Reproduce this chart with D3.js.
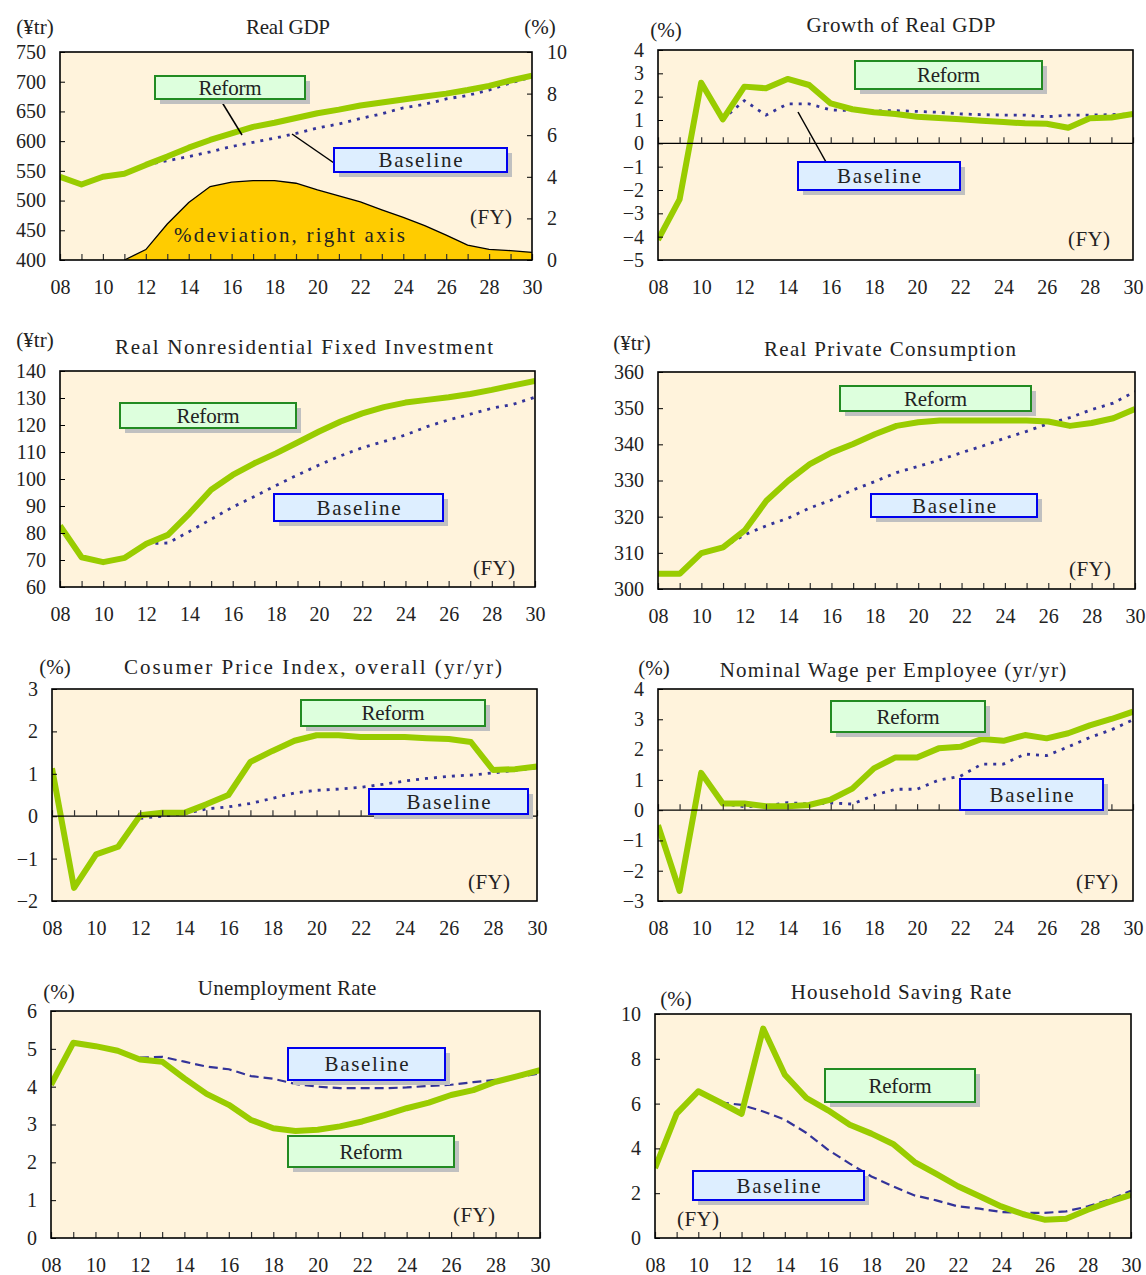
<!DOCTYPE html>
<html>
<head>
<meta charset="utf-8">
<script src="https://cdn.jsdelivr.net/npm/d3@7"></script>
<style>
body { margin: 0; background: #fff; }
text { font-family: "Liberation Serif", serif; fill: #222; }
</style>
</head>
<body>
<div id="chart-area"></div>
<script>
// fiscal years
var years = [2008, 2009, 2010, 2011, 2012, 2013, 2014, 2015, 2016, 2017, 2018,
             2019, 2020, 2021, 2022, 2023, 2024, 2025, 2026, 2027, 2028, 2029, 2030]
var yearLabels = [2008, 2010, 2012, 2014, 2016, 2018, 2020, 2022, 2024, 2026, 2028, 2030]

// Real GDP (trillion yen) and % deviation
var gdpReform = [540, 527, 540, 545, 560, 574, 589, 602, 613, 624, 631, 639, 647, 653, 660, 665, 670, 675, 680, 686, 693, 702, 710]
var gdpBase = [null, null, null, null, 560, 567, 574, 582, 591, 598, 605, 613, 622, 629, 638, 646, 656, 662, 671, 677, 686, 698, 708]
var gdpDev = [0, 0, 0, 0, 0.5, 1.73, 2.76, 3.53, 3.74, 3.82, 3.82, 3.69, 3.37, 3.08, 2.79, 2.41, 2.05, 1.65, 1.2, 0.72, 0.51, 0.45, 0.37]

// Growth of real GDP (%)
var growthReform = [-4.14, -2.4, 2.6, 1.03, 2.43, 2.36, 2.76, 2.5, 1.71, 1.46, 1.33, 1.26, 1.14, 1.09, 1.03, 0.97, 0.91, 0.86, 0.84, 0.67, 1.07, 1.11, 1.26]
var growthBase = [null, null, null, 1.03, 1.83, 1.21, 1.69, 1.69, 1.43, 1.4, 1.39, 1.4, 1.37, 1.33, 1.26, 1.23, 1.21, 1.21, 1.14, 1.21, 1.21, 1.23, 1.26]

// Real nonresidential fixed investment (trillion yen)
var invReform = [82.7, 71, 69.2, 70.8, 76, 79.3, 87.3, 96, 101.5, 105.8, 109.5, 113.5, 117.6, 121.3, 124.3, 126.6, 128.3, 129.3, 130.3, 131.5, 133, 134.7, 136.3]
var invBase = [null, null, null, null, 76, 76.3, 80.6, 85.1, 89.6, 93.5, 97.6, 101.5, 105.2, 108.6, 111.6, 113.9, 116.3, 119.4, 121.9, 124, 126.2, 127.7, 130.3]

// Real private consumption (trillion yen)
var consReform = [304.2, 304.2, 309.9, 311.5, 316.2, 324.4, 329.9, 334.5, 337.7, 340.1, 342.8, 345.1, 346.1, 346.6, 346.6, 346.6, 346.6, 346.6, 346.3, 345.1, 345.9, 347.2, 349.8]
var consBase = [null, null, null, 311.5, 315, 317.5, 319.6, 322.4, 324.6, 327.4, 329.7, 332.2, 333.9, 335.7, 337.7, 339.6, 341.7, 343.6, 345.7, 347.4, 349.6, 351.4, 354.6]

// CPI (yr/yr %)
var cpiReform = [1.13, -1.69, -0.9, -0.72, 0.02, 0.08, 0.08, 0.28, 0.5, 1.28, 1.54, 1.78, 1.91, 1.91, 1.87, 1.87, 1.87, 1.84, 1.82, 1.75, 1.09, 1.11, 1.17]
var cpiBase = [null, null, null, null, -0.05, 0, 0.06, 0.17, 0.22, 0.3, 0.42, 0.55, 0.61, 0.64, 0.68, 0.75, 0.83, 0.89, 0.94, 0.97, 1.02, 1.08, 1.14]

// Nominal wage per employee (yr/yr %)
var wageReform = [-0.5, -2.67, 1.23, 0.22, 0.22, 0.13, 0.13, 0.17, 0.35, 0.71, 1.38, 1.74, 1.74, 2.04, 2.09, 2.35, 2.29, 2.48, 2.37, 2.54, 2.8, 3.01, 3.25]
var wageBase = [null, null, null, 0.22, 0.11, 0.14, 0.25, 0.2, 0.24, 0.2, 0.49, 0.69, 0.69, 0.99, 1.12, 1.52, 1.52, 1.85, 1.8, 2.09, 2.4, 2.65, 2.98]

// Unemployment rate (%)
var unempReform = [4.05, 5.16, 5.07, 4.95, 4.72, 4.66, 4.22, 3.81, 3.52, 3.12, 2.9, 2.83, 2.86, 2.95, 3.08, 3.25, 3.43, 3.58, 3.78, 3.91, 4.13, 4.28, 4.44]
var unempBase = [null, null, null, null, 4.77, 4.79, 4.66, 4.53, 4.46, 4.28, 4.21, 4.07, 4.0, 3.96, 3.96, 3.96, 3.98, 4.02, 4.05, 4.12, 4.18, 4.25, 4.35]

// Household saving rate (%)
var saveReform = [3.12, 5.55, 6.55, 6.06, 5.54, 9.35, 7.29, 6.25, 5.7, 5.06, 4.66, 4.2, 3.39, 2.86, 2.31, 1.86, 1.41, 1.07, 0.82, 0.86, 1.26, 1.61, 1.93]
var saveBase = [null, null, null, 6.06, 5.94, 5.65, 5.28, 4.69, 3.94, 3.32, 2.75, 2.31, 1.9, 1.68, 1.41, 1.31, 1.16, 1.12, 1.12, 1.19, 1.41, 1.71, 2.11]

var width = 1146
var height = 1275
var charW = 10.5

var svg = d3.select("#chart-area").append("svg")
.attr("width", width)
.attr("height", height)

var panels = [
  {title: "Real GDP", tx: 288, ty: 27, unit: "(¥tr)", ux: 35, uy: 27,
   x0: 60, x1: 532, y0: 52, y1: 260, dom: [400, 750], step: 50,
   reform: gdpReform, base: gdpBase, dash: "3,6", fy: [491, 217],
   rBox: [155, 305, 76, 99], bBox: [334, 507, 148, 172],
   leaders: [[220, 99, 242, 135], [334, 163, 292, 134]]},
  {title: "Growth of Real GDP", tx: 901, ty: 25, unit: "(%)", ux: 666, uy: 30,
   x0: 658, x1: 1133, y0: 50, y1: 260, dom: [-5, 4], step: 1,
   reform: growthReform, base: growthBase, dash: "3,6", fy: [1089, 239],
   rBox: [855, 1042, 61, 89], bBox: [798, 960, 162, 190],
   leaders: [[826, 162, 798, 112]]},
  {title: "Real Nonresidential Fixed Investment", tx: 304, ty: 347, unit: "(¥tr)", ux: 35, uy: 340,
   x0: 60, x1: 535, y0: 371, y1: 587, dom: [60, 140], step: 10,
   reform: invReform, base: invBase, dash: "3,6", fy: [494, 568],
   rBox: [120, 296, 403, 428], bBox: [274, 443, 494, 521], leaders: []},
  {title: "Real Private Consumption", tx: 890, ty: 349, unit: "(¥tr)", ux: 632, uy: 343,
   x0: 658, x1: 1135, y0: 372, y1: 589, dom: [300, 360], step: 10,
   reform: consReform, base: consBase, dash: "3,6", fy: [1090, 569],
   rBox: [840, 1031, 386, 411], bBox: [871, 1037, 494, 517], leaders: []},
  {title: "Cosumer Price Index, overall (yr/yr)", tx: 313, ty: 667, unit: "(%)", ux: 55, uy: 667,
   x0: 52, x1: 537, y0: 689, y1: 901, dom: [-2, 3], step: 1,
   reform: cpiReform, base: cpiBase, dash: "3,6", fy: [489, 882],
   rBox: [301, 485, 700, 726], bBox: [369, 528, 789, 814], leaders: []},
  {title: "Nominal Wage per Employee (yr/yr)", tx: 893, ty: 670, unit: "(%)", ux: 654, uy: 668,
   x0: 658, x1: 1133, y0: 689, y1: 901, dom: [-3, 4], step: 1,
   reform: wageReform, base: wageBase, dash: "3,6", fy: [1097, 882],
   rBox: [831, 985, 701, 732], bBox: [960, 1103, 779, 810], leaders: []},
  {title: "Unemployment Rate", tx: 287, ty: 988, unit: "(%)", ux: 59, uy: 992,
   x0: 51, x1: 540, y0: 1011, y1: 1238, dom: [0, 6], step: 1,
   reform: unempReform, base: unempBase, dash: "9,5", fy: [474, 1215],
   rBox: [288, 454, 1136, 1167], bBox: [288, 445, 1048, 1080], leaders: []},
  {title: "Household Saving Rate", tx: 901, ty: 992, unit: "(%)", ux: 676, uy: 999,
   x0: 655, x1: 1131, y0: 1014, y1: 1238, dom: [0, 10], step: 2,
   reform: saveReform, base: saveBase, dash: "9,5", fy: [698, 1219],
   rBox: [825, 975, 1069, 1102], bBox: [693, 864, 1171, 1200], leaders: []}
]

// text; long strings keep the monospaced width of the original
const label = (g, txt, cx, cy, size, anchor, fit) => {
  var t = g.append("text")
  .attr("x", cx)
  .attr("y", cy)
  .attr("text-anchor", anchor || "middle")
  .attr("dominant-baseline", "central")
  .attr("font-size", size + "px")
  .text(txt)
  if (fit) {
    t.attr("textLength", txt.length * charW)
    .attr("lengthAdjust", "spacing")
  }
}

const box = (g, b, txt, fill, stroke) => {
  g.append("rect")
  .attr("x", b[0] + 5).attr("y", b[2] + 5)
  .attr("width", b[1] - b[0]).attr("height", b[3] - b[2])
  .attr("fill", "#c0c0c0")
  g.append("rect")
  .attr("x", b[0]).attr("y", b[2])
  .attr("width", b[1] - b[0]).attr("height", b[3] - b[2])
  .attr("fill", fill)
  .attr("stroke", stroke)
  .attr("stroke-width", 2)
  label(g, txt, (b[0] + b[1]) / 2, (b[2] + b[3]) / 2, 21, "middle", true)
}

var numFormat = d3.format("~g")

const styleAxis = (a) => {
  a.select(".domain").remove()
  a.selectAll(".tick line").attr("stroke", "#000")
  a.selectAll("text").attr("font-size", "20px").attr("font-family", null).attr("fill", "#222")
}

const drawPanel = (p, i) => {
  var x = d3.scaleLinear().domain([2008, 2030]).range([p.x0, p.x1])
  var y = d3.scaleLinear().domain(p.dom).range([p.y1, p.y0])
  var g = svg.append("g")

  g.append("clipPath").attr("id", "clip" + i)
  .append("rect")
  .attr("x", p.x0).attr("y", p.y0)
  .attr("width", p.x1 - p.x0).attr("height", p.y1 - p.y0)

  g.append("rect")
  .attr("x", p.x0).attr("y", p.y0)
  .attr("width", p.x1 - p.x0).attr("height", p.y1 - p.y0)
  .attr("fill", "#fff3dc")

  var plot = g.append("g").attr("clip-path", "url(#clip" + i + ")")

  // right axis area (GDP deviation)
  var yR = null
  if (i == 0) {
    yR = d3.scaleLinear().domain([0, 10]).range([p.y1, p.y0])
    plot.append("path")
    .datum(gdpDev)
    .attr("fill", "#ffcc00")
    .attr("d", d3.area()
      .x((d, k) => x(years[k]))
      .y0(yR(0))
      .y1(d => yR(d)))
    plot.append("path")
    .datum(gdpDev)
    .attr("fill", "none")
    .attr("stroke", "#000")
    .attr("stroke-width", 1.3)
    .attr("d", d3.line()
      .defined((d, k) => k >= 3)
      .x((d, k) => x(years[k]))
      .y(d => yR(d)))
  }

  // zero line and year ticks
  var zeroY = p.dom[0] < 0 ? y(0) : p.y1
  if (p.dom[0] < 0) {
    g.append("line")
    .attr("x1", p.x0).attr("x2", p.x1)
    .attr("y1", zeroY).attr("y2", zeroY)
    .attr("stroke", "#000")
    .attr("stroke-width", 1.2)
  }
  var xTicks = g.append("g")
  .attr("transform", "translate(0," + zeroY + ")")
  .call(d3.axisBottom(x).tickValues(years).tickSize(-6).tickFormat(""))
  xTicks.select(".domain").remove()
  xTicks.selectAll(".tick line").attr("stroke", "#333").attr("stroke-width", 1.2)

  var xLabels = g.append("g")
  .attr("transform", "translate(0," + p.y1 + ")")
  .call(d3.axisBottom(x).tickValues(yearLabels).tickSize(0).tickPadding(20)
    .tickFormat(d => String(d).slice(2)))
  styleAxis(xLabels)

  // leader lines
  p.leaders.forEach(l => {
    g.append("line")
    .attr("x1", l[0]).attr("y1", l[1])
    .attr("x2", l[2]).attr("y2", l[3])
    .attr("stroke", "#000")
    .attr("stroke-width", 1.5)
  })

  var line = d3.line()
  .defined(d => d != null)
  .x((d, k) => x(years[k]))
  .y(d => y(d))

  plot.append("path")
  .datum(p.base)
  .attr("fill", "none")
  .attr("stroke", "#333399")
  .attr("stroke-width", p.dash == "3,6" ? 2.8 : 2.2)
  .attr("stroke-dasharray", p.dash)
  .attr("d", line)

  plot.append("path")
  .datum(p.reform)
  .attr("fill", "none")
  .attr("stroke", "#99cc00")
  .attr("stroke-width", 6)
  .attr("stroke-linejoin", "round")
  .attr("d", line)

  // frame
  g.append("rect")
  .attr("x", p.x0).attr("y", p.y0)
  .attr("width", p.x1 - p.x0).attr("height", p.y1 - p.y0)
  .attr("fill", "none")
  .attr("stroke", "#000")
  .attr("stroke-width", 1.6)

  // y axis
  var yAxis = g.append("g")
  .attr("transform", "translate(" + p.x0 + ",0)")
  .call(d3.axisLeft(y).tickValues(d3.range(p.dom[0], p.dom[1] + 0.001, p.step))
    .tickSize(-5).tickPadding(14).tickFormat(numFormat))
  styleAxis(yAxis)

  if (yR) {
    var rAxis = g.append("g")
    .attr("transform", "translate(" + p.x1 + ",0)")
    .call(d3.axisRight(yR).tickValues([0, 2, 4, 6, 8, 10]).tickSize(-5).tickPadding(15)
      .tickFormat(numFormat))
    styleAxis(rAxis)
    label(g, "(%)", 540, 27, 21)
    label(g, "%deviation, right axis", 174, 235, 21, "start", true)
  }

  label(g, p.title, p.tx, p.ty, 21, "middle", true)
  label(g, p.unit, p.ux, p.uy, 21)
  label(g, "(FY)", p.fy[0], p.fy[1], 21, "middle", true)

  box(g, p.rBox, "Reform", "#ddffdd", "#228b22")
  box(g, p.bBox, "Baseline", "#ddeeff", "#0000ee")
}

panels.forEach(drawPanel)
</script>
</body>
</html>
